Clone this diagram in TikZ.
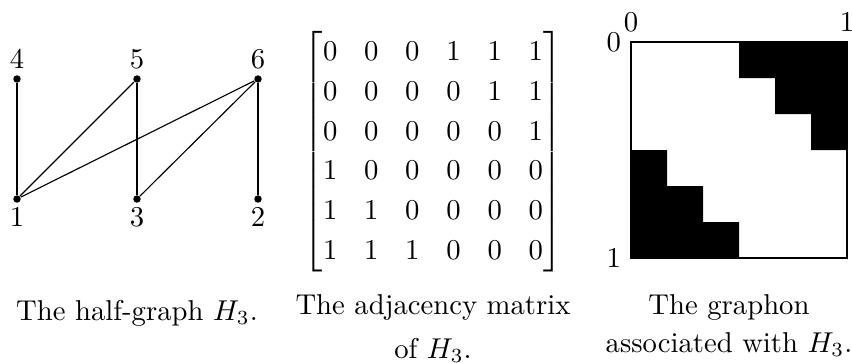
\documentclass[tikz,border=0pt]{standalone}
\usepackage{amsmath}
\usetikzlibrary{positioning}
\tikzstyle{vtx}=[%
      circle, fill=black, inner sep=0pt, minimum size=2.6pt
]
\tikzstyle{captext}=[%
      align=center, inner sep=0pt
]
\tikzstyle{blk}=[%
      fill=black, draw=none
]

\begin{document}
\begin{tikzpicture}[x=0.01225cm, y=-0.01225cm]
  \useasboundingbox (0,0) rectangle (852,362);

  % the half-graph
  \node[vtx, label={[label distance=-1.4pt]above:$4$}] (v4) at (17,79)  {};
  \node[vtx, label={[label distance=-1.4pt]above:$5$}] (v5) at (137,79) {};
  \node[vtx, label={[label distance=-1.4pt]above:$6$}] (v6) at (258,79) {};
  \node[vtx, label={[label distance=-1.8pt]below:$1$}] (v1) at (17,199)  {};
  \node[vtx, label={[label distance=-1.8pt]below:$3$}] (v3) at (137,199) {};
  \node[vtx, label={[label distance=-1.8pt]below:$2$}] (v2) at (258,199) {};
  \draw (v4) -- (v1);
  \draw (v5) -- (v1);
  \draw (v5) -- (v3);
  \draw (v6) -- (v1);
  \draw (v6) -- (v3);
  \draw (v6) -- (v2);

  % the adjacency matrix
  \node (adj) at (433,152) {\renewcommand{\arraystretch}{1.16}\setlength{\arraycolsep}{4.67pt}%
    $\begin{bmatrix}
      0 & 0 & 0 & 1 & 1 & 1\\
      0 & 0 & 0 & 0 & 1 & 1\\
      0 & 0 & 0 & 0 & 0 & 1\\
      1 & 0 & 0 & 0 & 0 & 0\\
      1 & 1 & 0 & 0 & 0 & 0\\
      1 & 1 & 1 & 0 & 0 & 0
    \end{bmatrix}$};

  % the graphon
  \coordinate (g0) at (631,42);
  \coordinate (g1) at (847,258);
  \fill[blk] (739,42) -- (847,42) -- (847,150) -- (811,150) -- (811,114) -- (775,114)
     -- (775,78) -- (739,78) -- cycle;
  \fill[blk] (631,150) -- (667,150) -- (667,186) -- (703,186) -- (703,222) -- (739,222)
     -- (739,258) -- (631,258) -- cycle;
  \draw (g0) rectangle (g1);
  \node[anchor=south] (top0) at (g0) {$0$};
  \node[anchor=south] (top1) at (g0 -| g1) {$1$};
  \node[anchor=east] (left0) at (g0) {$0$};
  \node[anchor=east] (left1) at (g0 |- g1) {$1$};

  % captions
  \node[captext, anchor=base] (capA) at (137,320) {The half-graph $H_3$.};
  \node[captext, anchor=base] (capB) at (433,358) {The adjacency matrix\\[3.3pt] of $H_3$.};
  \node[captext, anchor=base] (capC) at (729,352) {The graphon\\[1pt] associated with $H_3$.};
\end{tikzpicture}
\end{document}
